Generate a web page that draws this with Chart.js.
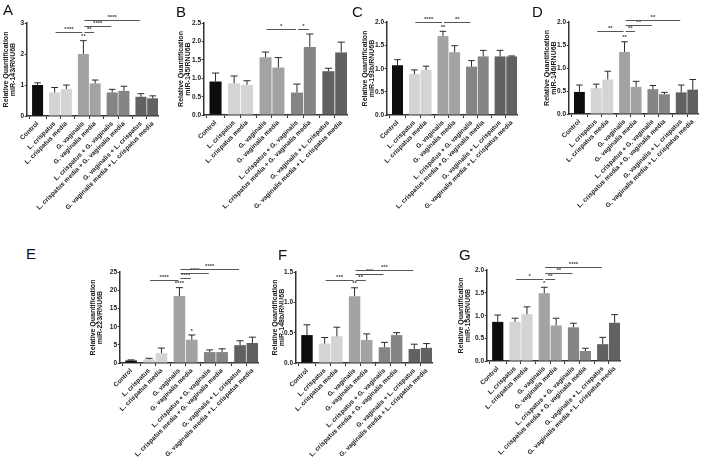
<!DOCTYPE html>
<html>
<head>
<meta charset="utf-8">
<script src="https://cdn.jsdelivr.net/npm/chart.js@4.4.0/dist/chart.umd.min.js"></script>
<style>
  html, body { margin: 0; padding: 0; background: #fff; }
  body { position: relative; width: 714px; height: 465px; overflow: hidden; font-family: 'Liberation Sans', Arial, sans-serif; }
  canvas { position: absolute; }
  .letter { position: absolute; font-size: 15px; line-height: 15px; color: #111; z-index: 2; }
</style>
</head>
<body>
<script>
// Treatment groups (same for every panel)
const categories = [
  'Control',
  'L. crispatus',
  'L. crispatus media',
  'G. vaginalis',
  'G. vaginalis media',
  'L. crispatus + G. vaginalis',
  'L. crispatus media + G. vaginalis media',
  'G. vaginalis + L. crispatus',
  'G. vaginalis media + L. crispatus media'
];
const groupIndex = [0, 1, 1, 2, 2, 3, 3, 4, 4];

// miR-143 (A)
const valuesA = [1.00, 0.76, 0.87, 2.00, 1.05, 0.76, 0.81, 0.62, 0.57];
const errA    = [0.07, 0.16, 0.13, 0.43, 0.11, 0.10, 0.15, 0.10, 0.08];
const sigA    = [[1, 3, 2.71, '****'], [3, 4, 2.71, '**'], [3, 5, 2.89, '****'], [3, 7, 3.09, '****']];
const starsA  = [[3, '**']];

// miR-145 (B)
const valuesB = [0.91, 0.86, 0.82, 1.57, 1.29, 0.61, 1.85, 1.19, 1.70];
const errB    = [0.23, 0.20, 0.11, 0.14, 0.27, 0.23, 0.35, 0.08, 0.28];
const sigB    = [[3, 5, 2.34, '*'], [5, 6, 2.34, '*']];
const starsB  = [];

// miR-193b (C)
const valuesC = [1.07, 0.88, 0.97, 1.70, 1.35, 1.04, 1.26, 1.26, 1.26];
const errC    = [0.12, 0.09, 0.08, 0.10, 0.14, 0.13, 0.13, 0.13, 0.01];
const sigC    = [[1, 3, 1.99, '****'], [3, 5, 1.99, '**']];
const starsC  = [[3, '**']];

// miR-146 (D)
const valuesD = [0.48, 0.56, 0.75, 1.35, 0.59, 0.54, 0.43, 0.47, 0.53];
const errD    = [0.15, 0.09, 0.18, 0.22, 0.12, 0.08, 0.04, 0.16, 0.22];
const sigD    = [[1, 3, 1.80, '**'], [3, 4, 1.80, '**'], [3, 5, 1.93, '**'], [3, 7, 2.04, '**']];
const starsD  = [[3, '**']];

// miR-223 (E)
const valuesE = [0.7, 1.0, 2.7, 18.4, 6.4, 3.0, 3.0, 4.9, 5.5];
const errE    = [0.15, 0.3, 1.4, 2.3, 1.3, 0.6, 0.9, 1.2, 1.6];
const sigE    = [[1, 3, 22.8, '****'], [3, 4, 23.4, '****'], [3, 5, 24.6, '****'], [3, 7, 25.8, '****']];
const starsE  = [[3, '****'], [4, '*']];

// miR-148b (F)
const valuesF = [0.46, 0.32, 0.44, 1.10, 0.38, 0.26, 0.46, 0.23, 0.25];
const errF    = [0.17, 0.10, 0.15, 0.14, 0.10, 0.08, 0.04, 0.08, 0.07];
const sigF    = [[1, 3, 1.37, '***'], [3, 4, 1.37, '**'], [3, 5, 1.47, '***'], [3, 7, 1.54, '***']];
const starsF  = [[3, '**']];

// miR-15a (G)
const valuesG = [0.86, 0.86, 1.03, 1.49, 0.78, 0.74, 0.22, 0.37, 0.84];
const errG    = [0.15, 0.08, 0.16, 0.13, 0.16, 0.09, 0.06, 0.15, 0.18];
const sigG    = [[1, 3, 1.81, '*'], [3, 4, 1.81, '**'], [3, 5, 1.94, '**'], [3, 7, 2.07, '****']];
const starsG  = [[3, '*']];

// Styles
const groupColors = ['#0d0d0d', '#d4d4d4', '#a3a3a3', '#858585', '#616161'];
const axisColor = '#333';
const textColor = '#1a1a1a';
const fontFamily = "'Liberation Sans', Arial, sans-serif";

// x positions: bars inside a group touch, groups separated by a gap
const xPos = [];
groupIndex.forEach((g, i) => {
  if (i === 0) xPos.push(0);
  else xPos.push(xPos[i - 1] + (g === groupIndex[i - 1] ? 1 : 1.45));
});

// Panel layout (pixels in the page)
const panels = [
  { letter: 'A', lx: 3,   ly: 2,   axisX: 27,  top: 23,  right: 158, zero: 116, gap: 21, gene: 'miR-143/RNU6B',  max: 3,   step: 1,   dec: 0, values: valuesA, err: errA, sig: sigA, stars: starsA },
  { letter: 'B', lx: 176, ly: 4,   axisX: 204, top: 23,  right: 347, zero: 115, gap: 23, gene: 'miR-145/RNU6B',  max: 2.5, step: 0.5, dec: 1, values: valuesB, err: errB, sig: sigB, stars: starsB },
  { letter: 'C', lx: 352, ly: 4,   axisX: 387, top: 22,  right: 517, zero: 115, gap: 22, gene: 'miR-193b/RNU6B', max: 2,   step: 0.5, dec: 1, values: valuesC, err: errC, sig: sigC, stars: starsC },
  { letter: 'D', lx: 532, ly: 4,   axisX: 569, top: 22,  right: 698, zero: 114, gap: 22, gene: 'miR-146/RNU6B',  max: 2,   step: 0.5, dec: 1, values: valuesD, err: errD, sig: sigD, stars: starsD },
  { letter: 'E', lx: 26,  ly: 246, axisX: 120, top: 272, right: 258, zero: 363, gap: 27, gene: 'miR-223/RNU6B',  max: 25,  step: 5,   dec: 0, values: valuesE, err: errE, sig: sigE, stars: starsE },
  { letter: 'F', lx: 278, ly: 247, axisX: 296, top: 272, right: 432, zero: 363, gap: 21, gene: 'miR-148b/RNU6B', max: 1.5, step: 0.5, dec: 1, values: valuesF, err: errF, sig: sigF, stars: starsF },
  { letter: 'G', lx: 459, ly: 247, axisX: 487, top: 270, right: 620, zero: 361, gap: 26, gene: 'miR-15a/RNU6B',  max: 2,   step: 0.5, dec: 1, values: valuesG, err: errG, sig: sigG, stars: starsG }
];

const PAD_TOP = 16;
const PAD_RIGHT = 8;
const X_HEIGHT = 110;
const TITLE_LH = 1.05;
const TITLE_SIZE = 7;

// error bars, stars above bars, significance brackets, y tick labels
const annotationPlugin = {
  id: 'annotations',
  afterDatasetsDraw(chart) {
    const ctx = chart.ctx;
    const ds = chart.data.datasets[0];
    const meta = chart.getDatasetMeta(0);
    const y = chart.scales.y;
    ctx.save();
    ctx.strokeStyle = '#2a2a2a';
    ctx.lineWidth = 1;
    meta.data.forEach((bar, i) => {
      const v = ds.data[i].y;
      const yBar = y.getPixelForValue(v);
      const yTop = y.getPixelForValue(v + ds.err[i]);
      const cap = bar.width * 0.3;
      ctx.beginPath();
      ctx.moveTo(bar.x, yBar);
      ctx.lineTo(bar.x, yTop);
      ctx.moveTo(bar.x - cap, yTop);
      ctx.lineTo(bar.x + cap, yTop);
      ctx.stroke();
    });
    ctx.font = 'bold 6px ' + fontFamily;
    ctx.fillStyle = '#444';
    ctx.textAlign = 'center';
    ctx.textBaseline = 'bottom';
    ds.stars.forEach(([i, txt]) => {
      const bar = meta.data[i];
      const yTop = y.getPixelForValue(ds.data[i].y + ds.err[i]);
      ctx.fillText(txt, bar.x, yTop - 1);
    });
    ctx.strokeStyle = '#555';
    ds.sig.forEach(([a, b, val, txt]) => {
      const x1 = meta.data[a].x + 1;
      const x2 = meta.data[b].x - 1;
      const yy = Math.round(y.getPixelForValue(val)) + 0.5;
      ctx.beginPath();
      ctx.moveTo(x1, yy);
      ctx.lineTo(x2, yy);
      ctx.stroke();
      ctx.fillText(txt, (x1 + x2) / 2, yy - 0.5);
    });
    ctx.restore();
  },
  afterDraw(chart) {
    const ctx = chart.ctx;
    const y = chart.scales.y;
    ctx.save();
    ctx.font = 'bold 6.5px ' + fontFamily;
    ctx.textAlign = 'right';
    ctx.textBaseline = 'middle';
    y.ticks.forEach(t => {
      const px = Math.round(y.getPixelForValue(t.value));
      const w = ctx.measureText(t.label).width;
      const xr = Math.round(y.right) - 3;
      ctx.fillStyle = '#fff';
      ctx.fillRect(xr - w - 0.5, px - 3.5, w + 1, 7);
      ctx.fillStyle = textColor;
      ctx.fillText(t.label, xr, px + 0.5);
    });
    ctx.restore();
  }
};

panels.forEach(p => {
  const left = Math.round(p.axisX - (p.gap + TITLE_SIZE * TITLE_LH / 2 + 2));
  const yw = p.axisX - left;
  const top = p.top - PAD_TOP;
  const width = p.right + PAD_RIGHT - left;
  const height = p.zero - top + X_HEIGHT;

  const letter = document.createElement('div');
  letter.className = 'letter';
  letter.textContent = p.letter;
  letter.style.left = p.lx + 'px';
  letter.style.top = p.ly + 'px';
  document.body.appendChild(letter);

  const canvas = document.createElement('canvas');
  canvas.width = width;
  canvas.height = height;
  canvas.style.left = left + 'px';
  canvas.style.top = top + 'px';
  document.body.appendChild(canvas);

  new Chart(canvas, {
    type: 'bar',
    data: {
      datasets: [{
        data: p.values.map((v, i) => ({ x: xPos[i], y: v })),
        backgroundColor: groupIndex.map(g => groupColors[g]),
        barPercentage: 0.94,
        categoryPercentage: 1,
        err: p.err,
        sig: p.sig,
        stars: p.stars
      }]
    },
    options: {
      responsive: false,
      animation: false,
      devicePixelRatio: 1,
      layout: { padding: { top: PAD_TOP, right: PAD_RIGHT, left: 0, bottom: 0 } },
      plugins: { legend: { display: false }, tooltip: { enabled: false } },
      scales: {
        x: {
          type: 'linear',
          min: -0.9,
          max: 10.25,
          offset: false,
          afterBuildTicks: s => { s.ticks = xPos.map(v => ({ value: v })); },
          afterFit: s => { s.height = X_HEIGHT; },
          ticks: {
            autoSkip: false,
            minRotation: 45,
            maxRotation: 45,
            padding: 1,
            color: textColor,
            font: { family: fontFamily, size: 6.5, weight: 'bold' },
            callback: (v, i) => categories[i]
          },
          grid: { drawOnChartArea: false, drawTicks: true, tickLength: 3, color: axisColor, lineWidth: 1 },
          border: { display: true, color: axisColor, width: 1.5 }
        },
        y: {
          min: 0,
          max: p.max,
          afterFit: s => { s.width = yw; },
          ticks: {
            autoSkip: false,
            stepSize: p.step,
            padding: 0.5,
            color: 'rgba(0,0,0,0)',
            font: { family: fontFamily, size: 6.3, weight: 'bold' },
            callback: v => v.toFixed(p.dec)
          },
          grid: { drawOnChartArea: false, drawTicks: true, tickLength: 2.5, color: axisColor, lineWidth: 1 },
          border: { display: true, color: axisColor, width: 1.5 },
          title: {
            display: true,
            text: ['Relative Quantification', p.gene],
            color: textColor,
            font: { family: fontFamily, size: TITLE_SIZE, weight: 'bold', lineHeight: TITLE_LH },
            padding: { top: 2, bottom: 0 }
          }
        }
      }
    },
    plugins: [annotationPlugin]
  });
});
</script>
</body>
</html>
